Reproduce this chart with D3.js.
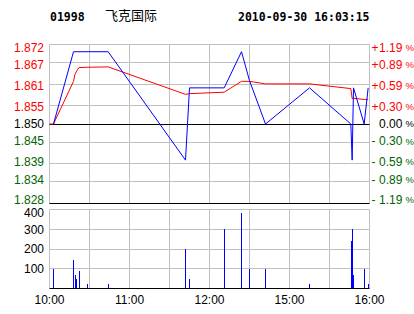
<!DOCTYPE html>
<html>
<head>
<meta charset="utf-8">
<script src="https://cdn.jsdelivr.net/npm/d3@7"></script>
<style>
  body { margin: 0; background: #fff; }
  svg { display: block; }
  text { font-family: "Liberation Sans", Arial, sans-serif; font-size: 12px; }
  .head { font-family: "DejaVu Sans Mono", monospace; font-weight: bold; font-size: 11.5px; }
</style>
</head>
<body>
<svg width="414" height="314"></svg>
<script>
const stockCode = '01998';
const stockName = '飞克国际';
const stamp = '2010-09-30 16:03:15';
const prevClose = 1.850;

const priceTicks = [1.872, 1.867, 1.861, 1.855, 1.850, 1.845, 1.839, 1.834, 1.828];
const pctTicks = ['+1.19', '+0.89', '+0.59', '+0.30', '0.00', '-0.30', '-0.59', '-0.89', '-1.19'];
const volTicks = [400, 300, 200, 100];
const timeLabels = ['10:00', '11:00', '12:00', '15:00', '16:00'];

// last price (blue)
const priceTimes = ['10:03', '10:18', '10:44', '11:42', '11:45', '12:11', '12:24', '14:30',
  '14:42', '15:15', '15:46', '15:47', '15:48', '15:56', '15:59'];
const prices = [1.850, 1.870, 1.870, 1.840, 1.860, 1.860, 1.870, 1.862,
  1.850, 1.860, 1.850, 1.840, 1.860, 1.850, 1.860];

// average price (red)
const avgTimes = ['10:00', '10:03', '10:18', '10:19', '10:20', '10:22', '10:28', '10:44', '11:42',
  '11:45', '12:11', '12:24', '14:30', '14:42', '15:15', '15:46', '15:47', '15:48', '15:56', '15:59'];
const avgPrices = [1.8500, 1.8500, 1.8618, 1.8636, 1.8644, 1.8656, 1.8657, 1.8658, 1.8582,
  1.8584, 1.8588, 1.8618, 1.8618, 1.8611, 1.8611, 1.8598, 1.8570, 1.8571, 1.8568, 1.8568];

// volume bars
const volTimes = ['10:03', '10:18', '10:19', '10:20', '10:22', '10:28', '10:44', '11:42', '11:45',
  '12:11', '12:24', '14:30', '14:42', '15:15', '15:46', '15:47', '15:48', '15:56', '15:59'];
const volumes = [100, 145, 70, 50, 90, 25, 25, 200, 50,
  300, 380, 100, 100, 25, 240, 300, 70, 100, 25];

// trading minutes from 10:00, lunch break 12:30-14:30 skipped
function toMin(t) {
  const [h, m] = t.split(':').map(Number);
  const v = h * 60 + m - 600;
  return v >= 270 ? v - 120 : v;
}
const snap = v => Math.round(v - 0.5) + 0.5;

const svg = d3.select('svg');
const green = '#006400';
const grid = '#c0c0c0';
const colorFor = (d, i) => i < 4 ? '#ff0000' : (i === 4 ? '#000' : green);

const x = d3.scaleLinear().domain([0, 240]).range([49.5, 369.5]);
const y = d3.scaleLinear().domain([1.828, 1.872]).range([203.5, 44.5]);
const yLab = d3.scaleLinear().domain([1.828, 1.872]).range([200, 47.5]);
const yv = d3.scaleLinear().domain([0, 400]).range([288.5, 209.5]);

// header
svg.append('text').attr('class', 'head').attr('x', 50).attr('y', 20.5).text(stockCode);
svg.append('text').attr('x', 105).attr('y', 19.5)
  .style('font-family', '"Noto Sans CJK SC", sans-serif').style('font-size', '13px')
  .text(stockName);
svg.append('text').attr('class', 'head').attr('x', 238).attr('y', 20.5).text(stamp);

// ---- price panel
const vGrid = d3.range(0, 241, 30);
svg.append('g').selectAll('line').data(vGrid).enter().append('line')
  .attr('x1', d => snap(x(d))).attr('x2', d => snap(x(d)))
  .attr('y1', y(1.872)).attr('y2', y(1.828))
  .attr('stroke', grid);
svg.append('g').selectAll('line').data(priceTicks).enter().append('line')
  .attr('x1', x(0)).attr('x2', x(240))
  .attr('y1', d => snap(y(d))).attr('y2', d => snap(y(d)))
  .attr('stroke', d => (d === prevClose || d === 1.828) ? '#000' : grid);

svg.append('g').selectAll('text').data(priceTicks).enter().append('text')
  .attr('x', 44).attr('y', d => yLab(d)).attr('dy', '0.36em')
  .attr('text-anchor', 'end')
  .attr('fill', colorFor)
  .text(d => d.toFixed(3));

const pctG = svg.append('g').selectAll('g').data(pctTicks).enter().append('g')
  .attr('fill', (d, i) => colorFor(d, i))
  .attr('transform', (d, i) => `translate(0,${yLab(priceTicks[i])})`);
pctG.append('text').attr('x', 371.5).attr('dy', '0.36em')
  .text(d => /^[+-]/.test(d) ? d[0] : '');
pctG.append('text').attr('x', 379).attr('dy', '0.36em')
  .text(d => d.replace(/^[+-]/, ''));
// the % sign sits right at the window edge; keep it small so it stays inside
pctG.append('text').attr('x', 405.5).attr('dy', '0.36em')
  .style('font-size', '9.5px').text('%');

const line = d3.line().x(d => x(toMin(d[0]))).y(d => y(d[1]));
svg.append('path')
  .datum(d3.zip(avgTimes, avgPrices))
  .attr('d', line).attr('fill', 'none').attr('stroke', '#ff0000').attr('stroke-width', 1);
svg.append('path')
  .datum(d3.zip(priceTimes, prices))
  .attr('d', line).attr('fill', 'none').attr('stroke', '#0000ff').attr('stroke-width', 1);

// ---- volume panel
svg.append('g').selectAll('line').data(vGrid).enter().append('line')
  .attr('x1', d => snap(x(d))).attr('x2', d => snap(x(d)))
  .attr('y1', yv(400)).attr('y2', yv(0))
  .attr('stroke', grid);
svg.append('g').selectAll('line').data(volTicks).enter().append('line')
  .attr('x1', x(0)).attr('x2', x(240))
  .attr('y1', d => snap(yv(d))).attr('y2', d => snap(yv(d)))
  .attr('stroke', grid);

svg.append('g').selectAll('rect').data(d3.zip(volTimes, volumes)).enter().append('rect')
  .attr('x', d => Math.round(x(toMin(d[0])) - 0.3))
  .attr('width', 1)
  .attr('y', d => Math.round(yv(d[1])))
  .attr('height', d => yv(0) - Math.round(yv(d[1])))
  .attr('fill', '#0000ff');

svg.append('line')
  .attr('x1', x(0)).attr('x2', x(240))
  .attr('y1', yv(0)).attr('y2', yv(0))
  .attr('stroke', '#000');

svg.append('g').selectAll('text').data(volTicks).enter().append('text')
  .attr('x', 44).attr('y', d => Math.max(yv(d), 213)).attr('dy', '0.36em')
  .attr('text-anchor', 'end')
  .text(d => d);

svg.append('g').selectAll('text').data(timeLabels).enter().append('text')
  .attr('x', d => x(toMin(d))).attr('y', 303.5)
  .attr('text-anchor', 'middle')
  .text(d => d);
</script>
</body>
</html>
